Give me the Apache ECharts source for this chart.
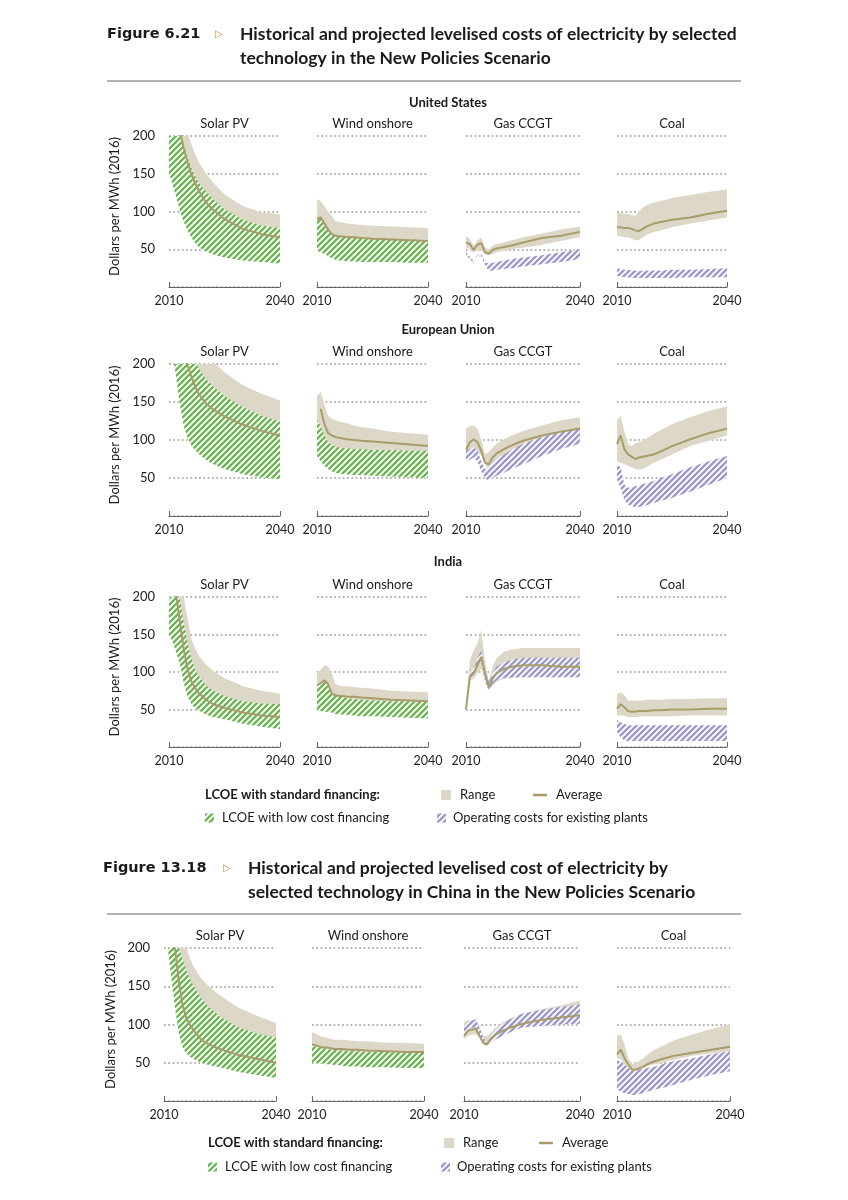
<!DOCTYPE html>
<html><head><meta charset="utf-8">
<script src="https://cdn.jsdelivr.net/npm/echarts@6/dist/echarts.min.js"></script>
<style>html,body{margin:0;padding:0;background:#fff}#c{width:848px;height:1200px}</style>
</head><body><div id="c"></div>
<script>
// ---------------- DATA ----------------
const years = [2010,2011,2012,2013,2014,2015,2016,2017,2018,2020,2022,2025,2030,2035,2040];
const xTicks = [2010, 2040];
const yTicks = [0, 50, 100, 150, 200];
const regionNames = ['United States', 'European Union', 'India'];
const techNames = ['Solar PV', 'Wind onshore', 'Gas CCGT', 'Coal'];
const yAxisName = 'Dollars per MWh (2016)';

// United States
const usSolarRangeHi = [230,230,230,225,215,205,190,177,166,150,138,123,107,99,96];
const usSolarRangeLo = [170,150,130,112,98,87,78,71,66,59,54,49,45,43,42];
const usSolarAvg     = [null,null,225,205,184,165,150,138,128,112,102,90,77,70,66];
const usSolarLowHi   = [230,230,220,203,186,172,158,147,138,126,116,103,89,81,78];
const usSolarLowLo   = [152,135,118,100,86,75,66,59,53,47,43,39,35,33,31];

const usWindRangeHi = [116,114,107,100,94,87,86,85,84,83,82,81,80,79,78];
const usWindRangeLo = [60,60,56,52,48,46,45,44,44,43,43,42,42,41,41];
const usWindAvg     = [90,92,84,76,70,68,67,67,66,66,65,64,63,62,61];
const usWindLowHi   = [91,93,85,77,71,69,68,68,67,67,66,65,64,63,62];
const usWindLowLo   = [48,46,44,41,38,36,35,35,34,34,33,33,33,32,32];

const usGasRangeHi = [67,64,55,62,66,53,49,55,57,59,62,66,71,76,80];
const usGasRangeLo = [53,50,46,48,49,44,42,44,46,48,50,52,56,61,66];
const usGasAvg     = [59,57,49,56,58,46,44,49,51,53,55,59,65,68,73];
const usGasOpHi    = [46,40,34,42,44,33,31,32,33,35,37,39,42,46,50];
const usGasOpLo    = [42,37,31,39,41,29,21,22,23,24,25,27,30,33,37];

const usCoalRangeHi = [99,98,97,97,95,94,100,105,108,112,114,118,122,126,129];
const usCoalRangeLo = [68,67,66,66,64,62,62,66,69,73,75,79,84,88,92];
const usCoalAvg     = [79,79,78,78,77,75,74,77,80,84,86,89,92,97,101];
const usCoalOpHi    = [25,24,23,23,22,22,21,22,22,22,22,23,23,24,25];
const usCoalOpLo    = [15,14,13,13,12,12,12,12,12,12,12,12,13,13,13];

// European Union
const euSolarRangeHi = [300,290,280,270,260,250,240,232,225,213,203,189,172,161,152];
const euSolarRangeLo = [260,230,195,160,135,118,107,99,93,85,80,73,66,62,60];
const euSolarAvg     = [null,null,null,230,213,199,184,171,161,148,140,131,120,112,106];
const euSolarLowHi   = [300,290,280,260,240,225,212,203,195,180,170,158,143,132,124];
const euSolarLowLo   = [240,215,180,145,118,103,93,87,82,74,68,62,55,51,48];

const euWindRangeHi = [158,163,146,132,128,126,124,123,122,119,117,115,111,109,107];
const euWindRangeLo = [100,95,85,80,75,72,70,68,67,66,65,64,62,60,58];
const euWindAvg     = [null,141,121,109,106,104,103,102,101,100,99,98,96,94,92];
const euWindLowHi   = [126,118,106,97,93,91,90,89,89,88,88,87,87,86,86];
const euWindLowLo   = [79,72,66,62,59,57,56,55,55,54,54,53,52,51,50];

const euGasRangeHi = [115,118,119,115,101,81,84,90,95,101,106,112,119,126,130];
const euGasRangeLo = [79,84,86,84,81,68,61,68,73,79,84,92,101,110,112];
const euGasAvg     = [87,97,101,97,86,70,68,77,82,88,93,99,106,111,115];
const euGasOpHi    = [86,88,90,86,72,61,64,70,75,81,87,95,104,110,115];
const euGasOpLo    = [72,74,77,72,59,50,46,50,53,57,62,68,79,88,95];

const euCoalRangeHi = [126,132,112,95,92,96,97,99,102,108,113,121,130,138,144];
const euCoalRangeLo = [72,70,68,66,64,62,61,62,64,70,74,81,92,99,106];
const euCoalAvg     = [95,106,88,81,78,75,77,78,79,81,85,92,101,109,115];
const euCoalOpHi    = [68,64,41,37,38,39,40,42,43,46,50,55,64,72,79];
const euCoalOpLo    = [48,37,21,15,13,12,12,13,14,17,20,24,32,41,50];

// India
const inSolarRangeHi = [195,230,240,225,200,172,145,132,122,110,101,92,81,75,71];
const inSolarRangeLo = [160,150,135,118,95,78,66,60,55,49,45,41,36,32,30];
const inSolarAvg     = [null,230,200,165,130,105,88,79,72,63,57,52,46,42,40];
const inSolarLowHi   = [195,205,205,195,165,140,118,104,95,82,75,68,61,58,57];
const inSolarLowLo   = [150,140,125,110,85,68,58,52,49,43,40,37,31,27,24];

const inWindRangeHi = [98,103,109,107,98,84,82,81,81,80,79,78,75,74,73];
const inWindRangeLo = [52,52,52,51,50,48,47,46,46,45,44,44,43,42,41];
const inWindAvg     = [82,85,89,84,71,69,68,68,67,67,66,65,63,62,61];
const inWindLowHi   = [80,84,87,82,71,68,67,66,65,64,63,62,61,61,60];
const inWindLowLo   = [49,48,47,47,46,44,44,43,43,42,41,41,40,39,38];

const inGasRangeHi = [55,115,129,138,156,115,87,107,118,127,130,132,132,132,132];
const inGasRangeLo = [48,89,91,98,104,87,75,82,87,91,92,93,94,94,94];
const inGasAvg     = [50,93,98,109,120,98,80,91,98,104,107,109,109,107,107];
const inGasOpHi    = [null,98,104,118,129,102,87,98,107,113,116,119,119,119,119];
const inGasOpLo    = [null,91,95,107,115,89,75,84,89,92,93,93,93,93,93];

const inCoalRangeHi = [71,73,69,62,62,62,62,62,63,63,63,64,64,65,65];
const inCoalRangeLo = [42,42,42,40,40,40,40,41,41,41,41,41,42,42,42];
const inCoalAvg     = [51,57,53,48,47,47,48,48,48,49,49,50,50,51,51];
const inCoalOpHi    = [36,33,31,29,29,29,29,29,29,29,29,29,29,29,29];
const inCoalOpLo    = [20,13,9,8,8,8,8,8,8,8,8,8,8,8,8];

// China
const cnSolarRangeHi = [250,245,240,230,220,210,200,186,175,160,150,138,122,111,102];
const cnSolarRangeLo = [230,205,165,125,93,75,66,61,58,53,50,46,40,36,32];
const cnSolarAvg     = [null,null,215,197,155,125,108,99,92,80,74,68,60,55,50];
const cnSolarLowHi   = [260,250,240,220,200,185,170,159,150,134,123,110,96,88,83];
const cnSolarLowLo   = [240,200,160,120,88,70,62,58,55,50,47,44,38,34,30];

const cnWindRangeHi = [90,88,85,84,83,81,80,80,80,79,78,78,76,76,75];
const cnWindRangeLo = [52,51,51,50,50,49,48,48,47,46,46,45,45,44,44];
const cnWindAvg     = [74,73,71,70,70,69,68,68,68,67,67,66,65,64,64];
const cnWindLowHi   = [72,71,70,69,68,67,67,66,66,65,65,64,64,63,63];
const cnWindLowLo   = [50,50,49,49,48,48,47,47,46,45,45,44,44,43,43];

const cnGasRangeHi = [103,106,105,107,96,85,85,90,95,103,108,114,120,125,131];
const cnGasRangeLo = [81,85,87,87,85,76,73,79,83,90,93,96,98,100,101];
const cnGasAvg     = [85,92,93,95,85,76,74,81,86,92,96,101,106,109,112];
const cnGasOpHi    = [96,103,105,107,96,83,76,85,92,101,107,114,119,123,126];
const cnGasOpLo    = [85,92,96,96,85,74,72,76,80,85,90,96,98,100,101];

const cnCoalRangeHi = [85,87,74,56,48,50,53,56,60,67,72,79,87,94,100];
const cnCoalRangeLo = [56,55,48,42,37,39,41,43,45,48,50,54,59,62,65];
const cnCoalAvg     = [61,67,56,48,41,41,43,45,48,52,55,59,63,67,71];
const cnCoalOpHi    = [54,51,48,43,39,40,41,42,43,45,48,52,56,61,65];
const cnCoalOpLo    = [15,12,10,9,8,8,9,10,12,15,17,21,28,34,39];

// ---------------- LAYOUT / STYLE ----------------
const RANGE_COLOR = '#ddd7c7';
const AVG_COLOR = '#a89c6a';
const GREEN = '#6cb553';
const PURPLE = '#9d98cb';
const TXT = '#1a1a1a';
const BODY_FONT = 'Lato, "Open Sans", sans-serif';

const rowTops = [136, 364, 597, 948];
const rowHeights = [151, 152, 150, 153];
const colsMain = [[169,111],[317,111],[466,114],[617,110]];
const colsChina = [[164,112],[312,112],[464,116],[617,113]];

function makeHatch(color) {
  const s = 6;
  const c = document.createElement('canvas');
  c.width = s; c.height = s;
  const ctx = c.getContext('2d');
  ctx.fillStyle = '#fff';
  ctx.fillRect(0, 0, s, s);
  ctx.strokeStyle = color;
  ctx.lineWidth = 2.3;
  ctx.beginPath();
  ctx.moveTo(-1, s + 1); ctx.lineTo(s + 1, -1);
  ctx.moveTo(-s / 2 - 1, s / 2 + 1); ctx.lineTo(s / 2 + 1, -s / 2 - 1);
  ctx.moveTo(s / 2 - 1, s * 1.5 + 1); ctx.lineTo(s * 1.5 + 1, s / 2 - 1);
  ctx.stroke();
  return { image: c, repeat: 'repeat' };
}
const greenHatch = makeHatch(GREEN);
const purpleHatch = makeHatch(PURPLE);

const panelRows = [
  [
    [usSolarRangeHi, usSolarRangeLo, usSolarAvg, usSolarLowHi, usSolarLowLo, 'g'],
    [usWindRangeHi, usWindRangeLo, usWindAvg, usWindLowHi, usWindLowLo, 'g'],
    [usGasRangeHi, usGasRangeLo, usGasAvg, usGasOpHi, usGasOpLo, 'p'],
    [usCoalRangeHi, usCoalRangeLo, usCoalAvg, usCoalOpHi, usCoalOpLo, 'p']
  ],
  [
    [euSolarRangeHi, euSolarRangeLo, euSolarAvg, euSolarLowHi, euSolarLowLo, 'g'],
    [euWindRangeHi, euWindRangeLo, euWindAvg, euWindLowHi, euWindLowLo, 'g'],
    [euGasRangeHi, euGasRangeLo, euGasAvg, euGasOpHi, euGasOpLo, 'p'],
    [euCoalRangeHi, euCoalRangeLo, euCoalAvg, euCoalOpHi, euCoalOpLo, 'p']
  ],
  [
    [inSolarRangeHi, inSolarRangeLo, inSolarAvg, inSolarLowHi, inSolarLowLo, 'g'],
    [inWindRangeHi, inWindRangeLo, inWindAvg, inWindLowHi, inWindLowLo, 'g'],
    [inGasRangeHi, inGasRangeLo, inGasAvg, inGasOpHi, inGasOpLo, 'p'],
    [inCoalRangeHi, inCoalRangeLo, inCoalAvg, inCoalOpHi, inCoalOpLo, 'p']
  ],
  [
    [cnSolarRangeHi, cnSolarRangeLo, cnSolarAvg, cnSolarLowHi, cnSolarLowLo, 'g'],
    [cnWindRangeHi, cnWindRangeLo, cnWindAvg, cnWindLowHi, cnWindLowLo, 'g'],
    [cnGasRangeHi, cnGasRangeLo, cnGasAvg, cnGasOpHi, cnGasOpLo, 'p'],
    [cnCoalRangeHi, cnCoalRangeLo, cnCoalAvg, cnCoalOpHi, cnCoalOpLo, 'p']
  ]
];

function bandSeries(gi, hi, lo, fill, z) {
  return {
    type: 'custom', xAxisIndex: gi, yAxisIndex: gi, clip: true, z: z, silent: true,
    data: years.map((y, i) => [y, hi[i] == null ? 0 : hi[i]]),
    encode: { x: 0, y: 1 },
    renderItem: function (params, api) {
      if (params.dataIndex !== 0) return null;
      const top = [], bot = [];
      years.forEach((y, i) => {
        if (hi[i] == null || lo[i] == null) return;
        top.push(api.coord([y, hi[i]]));
        bot.push(api.coord([y, lo[i]]));
      });
      return { type: 'polygon', shape: { points: top.concat(bot.reverse()) }, style: { fill: fill, stroke: null } };
    }
  };
}

const grids = [], xAxes = [], yAxes = [], series = [], graphics = [];
function txt(x, y, text, font, opts) {
  opts = opts || {};
  graphics.push({
    type: 'text', x: x, y: y, rotation: opts.rotation || 0, silent: true, z: 100,
    style: { text: text, font: font, fill: opts.fill || TXT,
      align: opts.align || 'left', verticalAlign: 'middle',
      textAlign: opts.align || 'left', textVerticalAlign: 'middle' }
  });
}

panelRows.forEach((row, r) => {
  const cols = r === 3 ? colsChina : colsMain;
  row.forEach((p, c) => {
    const gi = grids.length;
    const [left, width] = cols[c];
    grids.push({ left: left, top: rowTops[r], width: width, height: rowHeights[r], containLabel: false });
    xAxes.push({
      type: 'value', gridIndex: gi, min: xTicks[0], max: xTicks[1], interval: xTicks[1] - xTicks[0],
      axisLine: { show: true, onZero: false, lineStyle: { color: '#666', width: 1 } },
      axisTick: { show: true, inside: true, length: 5, lineStyle: { color: '#666', width: 1 } },
      axisLabel: { show: true, color: '#222', fontSize: 12.5, fontFamily: BODY_FONT, margin: 7,
        formatter: v => String(v) },
      splitLine: { show: false }
    });
    yAxes.push({
      type: 'value', gridIndex: gi, min: yTicks[0], max: yTicks[yTicks.length - 1], interval: yTicks[1] - yTicks[0],
      axisLine: { show: false }, axisTick: { show: false },
      axisLabel: { show: c === 0, margin: 14, color: '#222', fontSize: 13, fontFamily: BODY_FONT,
        formatter: v => (v === 0 ? '' : String(v)) },
      splitLine: { show: true, lineStyle: { color: '#999', width: 1.7, type: [1.7, 2.6] } }
    });
    const [hi, lo, avg, bHi, bLo, kind] = p;
    series.push(bandSeries(gi, hi, lo, RANGE_COLOR, 1));
    series.push(bandSeries(gi, bHi, bLo, kind === 'g' ? greenHatch : purpleHatch, 2));
    series.push({
      type: 'line', xAxisIndex: gi, yAxisIndex: gi, z: 3, silent: true,
      data: years.map((y, i) => [y, avg[i]]),
      symbol: 'none', showSymbol: false, connectNulls: false,
      lineStyle: { color: AVG_COLOR, width: 2 }
    });
    txt(left + width / 2, rowTops[r] - 12, techNames[c], '13px ' + BODY_FONT, { align: 'center' });
  });
  const nameX = r === 3 ? 111 : 115;
  txt(nameX, rowTops[r] + rowHeights[r] / 2 - 5, yAxisName, '13px ' + BODY_FONT, { align: 'center', rotation: Math.PI / 2 });
});

// region titles
txt(448, 103, regionNames[0], 'bold 13px ' + BODY_FONT, { align: 'center' });
txt(448, 330, regionNames[1], 'bold 13px ' + BODY_FONT, { align: 'center' });
txt(448, 562, regionNames[2], 'bold 13px ' + BODY_FONT, { align: 'center' });

// headers
function header(y1, y2, figX, figLabel, triX, titleX, line1, line2, ruleY) {
  txt(figX, y1, figLabel, 'bold 14.5px "DejaVu Sans", sans-serif');
  txt(triX, y1, '\u25B7', '10px "DejaVu Sans", sans-serif', { fill: '#e5873d' });
  txt(titleX, y1, line1, 'bold 17.5px ' + BODY_FONT);
  txt(titleX, y2, line2, 'bold 17.5px ' + BODY_FONT);
  graphics.push({ type: 'line', silent: true, shape: { x1: 107, y1: ruleY, x2: 741, y2: ruleY },
    style: { stroke: '#9a9a9a', lineWidth: 1.5 } });
}
header(34, 58, 107, 'Figure 6.21', 215, 240,
  'Historical and projected levelised costs of electricity by selected',
  'technology in the New Policies Scenario', 81);
header(868, 892, 103, 'Figure 13.18', 223, 248,
  'Historical and projected levelised cost of electricity by',
  'selected technology in China in the New Policies Scenario', 914);

// legends
function legend(y1, y2, x0, rangeX, avgX, greenX, purpleX) {
  txt(x0, y1, 'LCOE with standard financing:', 'bold 13px ' + BODY_FONT);
  graphics.push({ type: 'rect', silent: true, shape: { x: rangeX, y: y1 - 5, width: 10, height: 10 }, style: { fill: RANGE_COLOR } });
  txt(rangeX + 19, y1, 'Range', '13px ' + BODY_FONT);
  graphics.push({ type: 'line', silent: true, shape: { x1: avgX, y1: y1, x2: avgX + 14, y2: y1 }, style: { stroke: AVG_COLOR, lineWidth: 2.5 } });
  txt(avgX + 23, y1, 'Average', '13px ' + BODY_FONT);
  graphics.push({ type: 'rect', silent: true, shape: { x: greenX, y: y2 - 4.5, width: 9, height: 9 }, style: { fill: greenHatch } });
  txt(greenX + 17, y2, 'LCOE with low cost financing', '13px ' + BODY_FONT);
  graphics.push({ type: 'rect', silent: true, shape: { x: purpleX, y: y2 - 4.5, width: 9, height: 9 }, style: { fill: purpleHatch } });
  txt(purpleX + 16, y2, 'Operating costs for existing plants', '13px ' + BODY_FONT);
}
legend(795, 818, 205, 441, 533, 205, 437);
legend(1143, 1167, 208, 444, 539, 208, 441);

const chart = echarts.init(document.getElementById('c'), null, { renderer: 'canvas' });
chart.setOption({
  animation: false,
  backgroundColor: '#fff',
  grid: grids, xAxis: xAxes, yAxis: yAxes, series: series, graphic: graphics
});
</script></body></html>
